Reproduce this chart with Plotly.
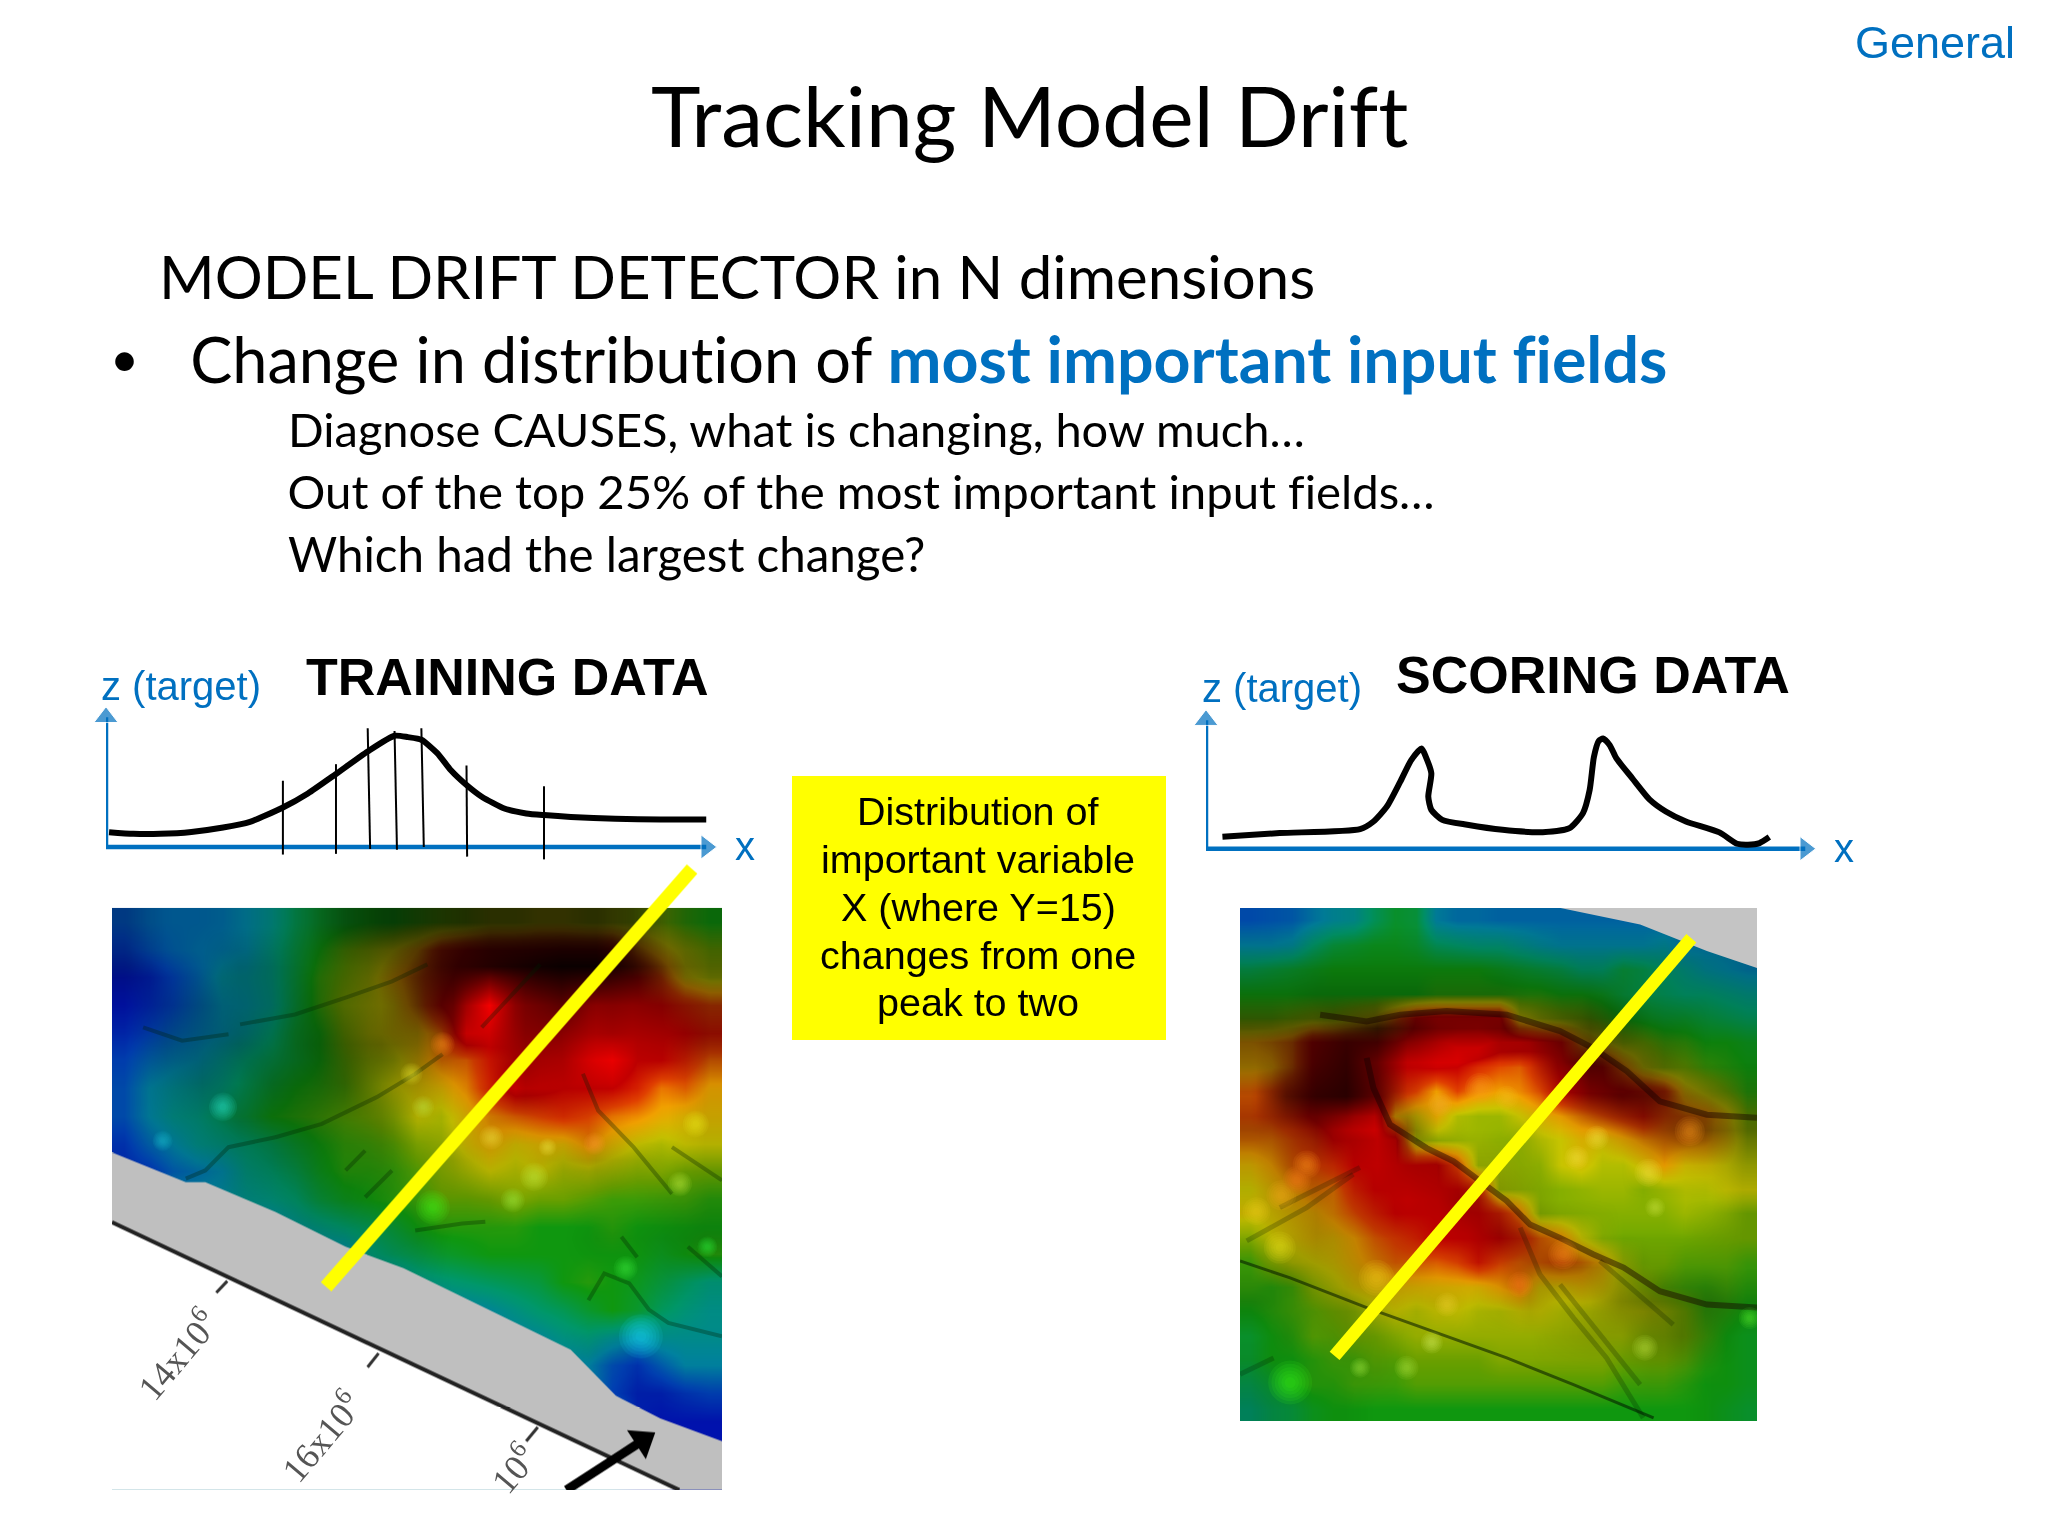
import plotly.graph_objects as go

# slide size in pixels, everything on the page is placed against this
PAGE_W = 2048
PAGE_H = 1536

BLUE = '#0070c0'
ARIAL = 'Liberation Sans'
BODY = 'Lato'

# distribution curves, axis units are percent of the arrow length
train_x = [0.5, 4.5, 8.9, 14.0, 19.2, 23.6, 29.0, 33.1, 37.7, 42.9, 47.3, 49.5, 51.7, 54.3,
           56.5, 59.1, 61.6, 65.3, 68.9, 71.8, 76.2, 83.5, 90.9, 98.4]
train_y = [10.7, 9.5, 9.5, 10.9, 14.1, 18.2, 28.6, 38.8, 52.9, 69.2, 80.6, 79.6, 77.7, 68.0,
           55.8, 44.9, 36.4, 27.9, 24.3, 23.1, 21.8, 20.4, 19.9, 19.9]
bin_x_top = [29.0, 37.7, 42.9, 47.3, 51.7, 59.1, 71.8]
bin_x_bottom = [29.0, 37.7, 43.3, 47.7, 52.1, 59.2, 71.8]
bin_top = [48, 60, 86, 84, 86, 59, 44]
bin_bottom = [-5.5, -5, -1.5, -2, 0, -7, -9]

score_x = [2.7, 12.1, 25.3, 27.5, 29.7, 31.9, 33.7, 35.4, 36.1, 37.0, 36.5, 37.0, 38.8, 42.9,
           48.7, 55.3, 59.7, 61.9, 63.0, 63.7, 64.5, 65.2, 66.3, 67.4, 70.0, 72.9, 75.5, 78.8,
           84.3, 87.2, 89.0, 90.9, 92.5]
score_y = [8.7, 11.4, 14.3, 19.9, 30.8, 49.0, 64.8, 73.3, 67.2, 55.1, 38.1, 28.4, 21.1, 17.5,
           13.8, 12.1, 15.0, 26.0, 43.0, 67.2, 78.9, 80.6, 75.7, 66.0, 51.5, 35.7, 27.2, 19.9,
           11.9, 3.6, 2.9, 4.1, 8.5]

# terrain height, 21 rows of 25 cells
train_height = [
    [.12, .15, .16, .16, .17, .2, .25, .33, .38, .4, .42, .42, .45, .48, .5, .55, .55, .58, .58, .55, .55, .52, .5, .45, .42],
    [.08, .12, .15, .17, .18, .2, .27, .35, .42, .48, .52, .58, .66, .8, .85, .85, .85, .85, .85, .85, .85, .7, .62, .55, .5],
    [.03, .05, .1, .15, .22, .23, .27, .36, .45, .5, .55, .64, .72, .82, .88, .95, .9, .85, .85, .85, .85, .85, .75, .6, .55],
    [.03, .06, .1, .15, .2, .22, .26, .36, .45, .52, .56, .6, .7, .85, .95, .95, .85, .85, .85, .88, .85, .85, .85, .8, .75],
    [.06, .1, .14, .17, .2, .24, .3, .38, .42, .5, .56, .6, .62, .72, .95, .88, .85, .85, .88, .88, .85, .85, .85, .85, .82],
    [.1, .15, .18, .2, .25, .3, .34, .38, .42, .48, .53, .56, .62, .7, .72, .82, .85, .88, .88, .93, .95, .85, .85, .8, .72],
    [.12, .2, .23, .25, .28, .33, .38, .42, .44, .47, .52, .57, .6, .62, .68, .8, .9, .88, .85, .85, .85, .8, .7, .72, .65],
    [.12, .2, .25, .27, .32, .36, .42, .44, .46, .48, .5, .53, .58, .56, .62, .68, .72, .75, .78, .75, .7, .68, .64, .62, .62],
    [.08, .15, .2, .25, .27, .3, .33, .38, .42, .45, .46, .48, .52, .54, .6, .64, .6, .62, .62, .68, .62, .58, .56, .58, .58],
    [.06, .08, .14, .17, .2, .27, .3, .34, .4, .44, .44, .45, .48, .52, .55, .58, .56, .58, .55, .56, .54, .52, .52, .5, .5],
    [.2, .2, .2, .2, .22, .25, .27, .3, .36, .4, .42, .44, .46, .49, .49, .5, .52, .5, .5, .48, .46, .46, .46, .46, .44],
    [.2, .2, .2, .2, .2, .2, .2, .24, .27, .3, .33, .37, .42, .44, .44, .44, .44, .42, .42, .42, .44, .42, .42, .42, .42],
    [.2, .2, .2, .2, .2, .2, .2, .2, .2, .2, .28, .32, .35, .38, .4, .42, .42, .42, .42, .42, .42, .42, .4, .42, .44],
    [.2, .2, .2, .2, .2, .2, .2, .2, .2, .2, .2, .2, .26, .28, .3, .32, .34, .36, .42, .44, .42, .4, .36, .32, .28],
    [.2, .2, .2, .2, .2, .2, .2, .2, .2, .2, .2, .2, .2, .2, .2, .22, .26, .3, .33, .38, .42, .38, .32, .28, .25],
    [.2, .2, .2, .2, .2, .2, .2, .2, .2, .2, .2, .2, .2, .2, .2, .2, .2, .22, .26, .28, .24, .2, .24, .24, .24],
    [.2, .2, .2, .2, .2, .2, .2, .2, .2, .2, .2, .2, .2, .2, .2, .2, .2, .2, .2, .2, .12, .08, .14, .2, .2],
    [.2, .2, .2, .2, .2, .2, .2, .2, .2, .2, .2, .2, .2, .2, .2, .2, .2, .2, .2, .2, .1, .05, .05, .08, .1],
    [.2, .2, .2, .2, .2, .2, .2, .2, .2, .2, .2, .2, .2, .2, .2, .2, .2, .2, .2, .2, .2, .05, .03, .03, .03],
    [.2, .2, .2, .2, .2, .2, .2, .2, .2, .2, .2, .2, .2, .2, .2, .2, .2, .2, .2, .2, .2, .05, .03, .03, .03],
    [.2, .2, .2, .2, .2, .2, .2, .2, .2, .2, .2, .2, .2, .2, .2, .2, .2, .2, .2, .2, .2, .05, .03, .03, .03],
]
score_height = [
    [.12, .13, .14, .18, .22, .24, .32, .38, .36, .2, .17, .17, .16, .16, .16, .16, .16, .16, .16, .16, .16, .16, .16, .16, .16],
    [.2, .2, .22, .3, .36, .38, .4, .4, .38, .32, .3, .28, .28, .25, .22, .2, .2, .2, .2, .2, .22, .18, .18, .18, .18],
    [.34, .36, .38, .4, .42, .42, .42, .42, .42, .42, .42, .42, .4, .38, .36, .34, .3, .3, .36, .34, .3, .26, .22, .2, .18],
    [.42, .42, .42, .42, .42, .42, .42, .42, .42, .44, .44, .44, .44, .44, .44, .42, .42, .4, .36, .34, .32, .3, .3, .28, .26],
    [.48, .48, .5, .52, .52, .56, .6, .72, .85, .88, .88, .88, .88, .6, .55, .52, .5, .46, .42, .4, .38, .38, .36, .34, .32],
    [.66, .68, .72, .85, .85, .85, .85, .85, .88, .92, .98, 1, .92, .92, .88, .85, .68, .6, .52, .5, .46, .45, .42, .42, .4],
    [.64, .65, .72, .85, .85, .85, .85, .85, .85, .86, .85, .78, .74, .72, .8, .86, .88, .85, .7, .58, .52, .5, .46, .44, .42],
    [.72, .75, .8, .85, .85, .85, .85, .8, .75, .66, .75, .68, .66, .68, .74, .85, .86, .86, .86, .82, .78, .62, .56, .5, .44],
    [.74, .76, .8, .86, .9, .95, .95, .65, .6, .64, .56, .54, .54, .58, .62, .66, .7, .74, .78, .82, .75, .72, .7, .62, .5],
    [.7, .7, .74, .78, .85, .85, .86, .88, .56, .54, .54, .54, .53, .53, .56, .58, .62, .6, .64, .68, .7, .7, .68, .62, .54],
    [.62, .66, .72, .74, .78, .85, .85, .85, .85, .86, .75, .54, .54, .53, .53, .58, .6, .56, .56, .6, .66, .6, .6, .58, .56],
    [.58, .62, .66, .7, .7, .8, .85, .85, .85, .85, .85, .8, .54, .53, .52, .52, .53, .54, .54, .52, .54, .56, .56, .58, .58],
    [.6, .6, .62, .64, .68, .74, .8, .85, .85, .85, .85, .85, .8, .7, .52, .52, .52, .52, .52, .52, .52, .54, .53, .52, .5],
    [.52, .58, .6, .62, .62, .66, .72, .76, .8, .85, .85, .85, .85, .8, .72, .68, .58, .52, .5, .5, .5, .5, .5, .5, .5],
    [.46, .52, .56, .58, .6, .64, .68, .72, .72, .72, .75, .82, .75, .72, .72, .74, .7, .64, .54, .5, .5, .48, .48, .48, .46],
    [.45, .44, .46, .52, .56, .6, .62, .62, .62, .62, .62, .62, .66, .7, .6, .6, .62, .6, .56, .52, .48, .46, .45, .46, .44],
    [.42, .44, .46, .48, .5, .52, .56, .58, .56, .58, .58, .56, .56, .58, .58, .56, .56, .56, .56, .56, .54, .5, .45, .44, .42],
    [.38, .42, .44, .48, .48, .5, .5, .52, .54, .54, .54, .54, .54, .54, .54, .54, .54, .54, .54, .52, .52, .5, .46, .42, .4],
    [.38, .42, .42, .44, .46, .46, .48, .48, .5, .5, .5, .5, .52, .52, .52, .52, .52, .52, .5, .5, .5, .48, .44, .42, .4],
    [.34, .38, .42, .44, .44, .46, .46, .46, .48, .48, .48, .48, .48, .48, .48, .48, .48, .48, .46, .46, .46, .44, .42, .42, .4],
    [.3, .34, .36, .4, .42, .42, .42, .42, .42, .42, .42, .42, .42, .42, .42, .42, .42, .42, .42, .42, .42, .42, .42, .4, .38],
]

# shadow on the same pictures, coarser, 15 rows of 17 cells
train_shade = [
    [.3, .2, .2, .2, .2, .3, .5, .6, .65, .7, .75, .75, .75, .75, .65, .4, .35],
    [.3, .2, .2, .3, .3, .3, .4, .5, .65, .75, .85, .9, .95, .95, .8, .55, .45],
    [.15, .25, .3, .3, .3, .35, .4, .45, .6, .55, .05, .4, .55, .35, .3, .35, .4],
    [.1, .25, .3, .35, .3, .4, .45, .5, .45, .25, .05, .3, .3, .15, .1, .15, .3],
    [.1, .2, .3, .25, .35, .35, .4, .3, .25, .1, .05, .2, .1, .05, 0, 0, .1],
    [.1, .15, .2, .3, .3, .3, .25, .25, .1, .05, .15, .1, .05, .05, 0, 0, .1],
    [.1, .1, .15, .2, .25, .25, .2, .2, .1, .15, .1, .1, .15, .2, .1, .05, .1],
    [.1, .1, .1, .15, .15, .2, .2, .15, .1, .1, .1, .05, .05, .05, .05, .1, .15],
    [.1, .1, .1, .1, .1, .15, .15, .15, .15, .05, .05, .05, .05, .1, .1, .15, .2],
    [.05, .05, .05, .05, .05, .1, .1, .15, .1, .05, .05, .05, .05, .05, .05, .1, .1],
    [.05, .05, .05, .05, .05, .05, .05, .1, .1, .05, .05, .05, .05, .05, .05, .05, .05],
    [.05, .05, .05, .05, .05, .05, .05, .05, .05, .05, .05, .05, .05, .1, .1, .05, .05],
    [.05, .05, .05, .05, .05, .05, .05, .05, .05, .05, .05, .05, .05, .05, .1, .1, .1],
    [.05, .05, .05, .05, .05, .05, .05, .05, .05, .05, .05, .05, .05, .05, .05, .05, .05],
    [.05, .05, .05, .05, .05, .05, .05, .05, .05, .05, .05, .05, .05, .05, .05, .05, .05],
]
score_shade = [
    [.1, .1, .1, .1, .1, .1, .1, .1, .1, .1, .1, .1, .1, .1, .1, .1, .1],
    [.2, .2, .2, .2, .2, .2, .2, .2, .2, .2, .2, .2, .2, .2, .2, .2, .2],
    [.3, .3, .35, .35, .35, .35, .35, .35, .35, .3, .3, .3, .25, .2, .2, .2, .2],
    [.55, .55, .6, .7, .8, .6, .5, .5, .5, .5, .55, .6, .45, .3, .25, .2, .2],
    [.4, .5, .65, .75, .5, .05, 0, 0, 0, .05, .35, .65, .55, .45, .3, .2, .2],
    [.2, .6, .75, .8, .55, .1, 0, 0, 0, 0, .1, .4, .55, .55, .45, .4, .3],
    [.3, .3, .35, .2, .1, .45, .05, 0, 0, .05, 0, .05, .15, .3, .45, .5, .4],
    [.15, .25, .2, .1, .05, .15, .2, .1, .1, .05, 0, 0, 0, .05, .05, .1, .2],
    [.1, .2, .25, .15, .1, .05, .1, .25, .2, .1, 0, 0, 0, 0, 0, 0, .1],
    [.05, .15, .25, .2, .15, .1, .05, .1, .25, .25, .15, .05, 0, 0, 0, .05, .1],
    [.1, .2, .2, .2, .2, .15, .05, .05, .1, .25, .3, .3, .2, .1, .1, .1, .1],
    [.2, .15, .15, .2, .15, .1, .1, .05, .1, .2, .1, .15, .3, .35, .3, .3, .2],
    [.1, .15, .1, .15, .1, .05, .05, .05, .05, .05, .1, .15, .15, .25, .3, .2, .1],
    [.15, .1, .1, .1, .1, .05, .05, .05, .05, .05, .05, .05, .05, .1, .1, .1, .1],
    [.2, .15, .1, .1, .05, .05, .05, .05, .05, .05, .05, .05, .05, .05, .05, .1, .1],
]
HEIGHT_COLORS = [
    [0, '#0000b4'], [.1, '#0044c0'], [.2, '#0088a8'], [.3, '#00a070'], [.42, '#10a010'],
    [.5, '#70a800'], [.58, '#c8c400'], [.66, '#f0a000'], [.75, '#e04000'], [.85, '#c80000'],
    [.95, '#ff0000'], [1, '#ff0000'],
]

# bare ground, creases and bright spots in fractions of each picture
train_ground_x = [0, .121, .153, .268, .383, .478, .752, .826, .899, 1, 1, 0]
train_ground_y = [.42, .471, .471, .522, .582, .619, .759, .838, .877, .916, 1, 1]
train_blank_x = [0, .93, 0]
train_blank_y = [.54, 1, 1]
train_edge_x = [0, .93]
train_edge_y = [.54, 1]
train_tick_x = [.171, .189, None, .419, .437, None, .679, .698]
train_tick_y = [.661, .641, None, .789, .765, None, .916, .892]
train_arrow_x = [.745, .87]
train_arrow_y = [1, .915]
train_crease_x = [.21, .3, .383, .459, .517, None, .268, .344, .434, .497, .542, None,
                  .121, .153, .191, .268, None, .772, .797, .855, .918, None,
                  .781, .807, .848, .88, .912, 1, None, .497, .574, .612, None,
                  .918, 1, None, .606, .702, None, .835, .861, None, .944, 1, None,
                  .051, .115, .191, None, .383, .415, None, .415, .459]
train_crease_y = [.2, .183, .154, .126, .097, None, .394, .371, .325, .285, .251, None,
                  .465, .451, .411, .394, None, .285, .348, .411, .491, None,
                  .674, .628, .645, .69, .713, .736, None, .554, .542, .539, None,
                  .411, .468, None, .205, .097, None, .565, .6, None, .582, .633, None,
                  .205, .228, .217, None, .451, .417, None, .497, .451]
train_spot_x = [.182, .526, .867, .842, .692, .622, .791, .714, .931, .957, .657, .51, .491, .542, .083, .976]
train_spot_y = [.342, .514, .736, .619, .462, .394, .405, .411, .474, .371, .502, .342, .285, .234, .4, .582]
train_spot_color = ['#30f0d0', '#40ff20', '#20e0ff', '#40f040', '#c0f040', '#f0e040', '#ffa030', '#f0e040',
                    '#c0f040', '#e8f020', '#a0f040', '#c0e040', '#e0e030', '#ff9020', '#20c0d0', '#30f040']
train_spot_size = [28, 34, 44, 24, 28, 24, 22, 18, 24, 26, 24, 22, 22, 24, 20, 20]
train_line_x = [.351, .951]
train_line_y = [.651, -.067]

score_ground_x = [.62, .774, .903, 1, 1, .62]
score_ground_y = [0, .032, .084, .117, 0, 0]
score_ridge_x = [.245, .258, .29, .361, .413, .464, .516, .561, .619, .683, .742, .812, .903, 1, None,
                 .155, .245, .31, .4, .516, .619, .683, .748, .812, .903, 1]
score_ridge_y = [.292, .351, .422, .468, .494, .532, .571, .617, .643, .675, .701, .747, .773, .779, None,
                 .208, .221, .208, .201, .208, .24, .273, .318, .377, .403, .409]
score_crease_x = [0, .097, .245, .387, .516, .645, .8]
score_crease_y = [.688, .721, .779, .831, .877, .929, .994]
score_streak_x = [.542, .58, .645, .709, .78, None, .619, .774, None, .219, .129, .013, None,
                  .232, .077, None, .065, 0, None, .696, .838]
score_streak_y = [.623, .714, .799, .877, .994, None, .734, .929, None, .519, .584, .649, None,
                  .506, .584, None, .877, .909, None, .688, .812]
score_spot_x = [.097, .371, .322, .232, .651, .69, .79, .803, .783, .264, .4, .077, .032, .129, .387, .464, .516, .542, .625, .87, .986,
                .08, .11]
score_spot_y = [.925, .847, .896, .896, .487, .448, .516, .584, .857, .721, .773, .662, .591, .5, .383, .351, .37, .734, .675, .435, .799,
                .56, .53]
score_spot_color = ['#40ff20', '#d0f060', '#b0e040', '#a0e040', '#f8e040', '#f8e040', '#f8e040', '#c8e040',
                    '#c0e040', '#f8d020', '#e8d030', '#e8e020', '#e8d020', '#ff9020', '#f8b030', '#ffa020',
                    '#f8c020', '#ff8020', '#ff9020', '#ffa020', '#60f030', '#f8b020', '#ff8020']
score_spot_size = [44, 22, 24, 20, 24, 24, 28, 20, 26, 36, 24, 32, 28, 28, 24, 30, 24, 26, 30, 30, 22, 30, 28]
score_line_x = [.183, .873]
score_line_y = [.873, .059]


def page_x(px: float) -> float:
    """Return the paper coordinate of a page pixel column."""
    return px / PAGE_W


def page_y(px: float) -> float:
    """Return the paper coordinate of a page pixel row."""
    return 1 - px / PAGE_H


def add_curve(fig, curve_x, curve_y, axis_id):
    """Add a blue pair of arrows and the black hand drawn curve to one small axes."""
    fig.add_trace(go.Scatter(x=[0, 98.4], y=[0, 0], mode='lines+markers', cliponaxis=False,
                             line=dict(color=BLUE, width=4.5), xaxis=f'x{axis_id}', yaxis=f'y{axis_id}',
                             marker=dict(symbol='triangle-right', size=[0, 21], color=BLUE)))
    fig.add_trace(go.Scatter(x=[0, 0], y=[0, 94], mode='lines+markers', cliponaxis=False,
                             line=dict(color=BLUE, width=4.5), xaxis=f'x{axis_id}', yaxis=f'y{axis_id}',
                             marker=dict(symbol='triangle-up', size=[0, 21], color=BLUE)))
    fig.add_trace(go.Scatter(x=curve_x, y=curve_y, mode='lines', cliponaxis=False,
                             line=dict(color='black', width=6, shape='spline', smoothing=0.6),
                             xaxis=f'x{axis_id}', yaxis=f'y{axis_id}'))


def add_surface(fig, height, shade, axis_id):
    """Add the coloured height map and the shadow map on top of it."""
    for grid, scale in ((height, HEIGHT_COLORS),
                        (shade, [[0, 'rgba(0,0,0,0)'], [1, 'rgba(0,0,0,1)']])):
        rows = len(grid)
        cols = len(grid[0])
        fig.add_trace(go.Heatmap(z=grid, x=[(i + 0.5) / cols for i in range(cols)],
                                 y=[(i + 0.5) / rows for i in range(rows)],
                                 zmin=0, zmax=1, zsmooth='best', colorscale=scale, showscale=False,
                                 xaxis=f'x{axis_id}', yaxis=f'y{axis_id}'))


def add_lines(fig, x, y, axis_id, color, width):
    """Add a plain line trace to the given axes."""
    fig.add_trace(go.Scatter(x=x, y=y, mode='lines', line=dict(color=color, width=width),
                             connectgaps=False, xaxis=f'x{axis_id}', yaxis=f'y{axis_id}'))


def add_fill(fig, x, y, axis_id, color):
    """Add a filled polygon without outline to the given axes."""
    fig.add_trace(go.Scatter(x=x, y=y, mode='lines', fill='toself', fillcolor=color,
                             line=dict(width=0), xaxis=f'x{axis_id}', yaxis=f'y{axis_id}'))


def add_spots(fig, x, y, colors, sizes, axis_id):
    """Add the bright specks of the surface, several sizes on top of each other to soften them."""
    for scale in (1.0, 0.85, 0.7, 0.55, 0.4, 0.25):
        fig.add_trace(go.Scatter(x=x, y=y, mode='markers', opacity=0.16,
                                 marker=dict(color=colors, size=[s * scale for s in sizes],
                                             line=dict(width=0)),
                                 xaxis=f'x{axis_id}', yaxis=f'y{axis_id}'))


def text(s, x, y, size, color='black', family=BODY, xanchor='left', angle=0):
    """Return a page text placed in pixels, y is the middle of the line."""
    return dict(text=s, x=page_x(x), y=page_y(y), xref='paper', yref='paper', showarrow=False,
                xanchor=xanchor, yanchor='middle', align='center', textangle=angle,
                font=dict(size=size, color=color, family=family))


def hidden_axis(domain, axis_range):
    """Return an invisible axis, only its scale is used."""
    return dict(domain=domain, range=axis_range, visible=False, fixedrange=True)


fig = go.Figure()

# small distribution plots
add_curve(fig, train_x, train_y, 1)
bin_lines_x = []
bin_lines_y = []
for x_top, x_bottom, top, bottom in zip(bin_x_top, bin_x_bottom, bin_top, bin_bottom):
    bin_lines_x += [x_top, x_bottom, None]
    bin_lines_y += [top, bottom, None]
add_lines(fig, bin_lines_x, bin_lines_y, 1, 'black', 2)
add_curve(fig, score_x, score_y, 2)

# training surface
add_surface(fig, train_height, train_shade, 3)
add_lines(fig, train_crease_x, train_crease_y, 3, 'rgba(0,30,0,0.3)', 4)
add_spots(fig, train_spot_x, train_spot_y, train_spot_color, train_spot_size, 3)
add_fill(fig, train_ground_x, train_ground_y, 3, '#bfbfbf')
add_fill(fig, train_blank_x, train_blank_y, 3, 'white')
add_lines(fig, train_edge_x, train_edge_y, 3, '#222222', 4)
add_lines(fig, train_tick_x, train_tick_y, 3, '#333333', 3)
add_lines(fig, train_arrow_x, train_arrow_y, 3, 'black', 9)
fig.add_trace(go.Scatter(x=train_arrow_x[1:], y=train_arrow_y[1:], mode='markers', xaxis='x3', yaxis='y3',
                         marker=dict(symbol='triangle-up', size=30, color='black', angle=57)))
add_lines(fig, train_line_x, train_line_y, 3, '#ffff00', 14)

# scoring surface
add_surface(fig, score_height, score_shade, 4)
add_lines(fig, score_streak_x, score_streak_y, 4, 'rgba(0,20,0,0.22)', 5)
add_lines(fig, score_crease_x, score_crease_y, 4, 'rgba(0,20,0,0.55)', 3)
add_lines(fig, score_ridge_x, score_ridge_y, 4, 'rgba(20,0,0,0.45)', 6)
add_spots(fig, score_spot_x, score_spot_y, score_spot_color, score_spot_size, 4)
add_fill(fig, score_ground_x, score_ground_y, 4, '#c4c4c4')
add_lines(fig, score_line_x, score_line_y, 4, '#ffff00', 13)

annotations = [
    text('General', 2017, 42, 45, BLUE, ARIAL, 'right'),
    text('Tracking Model Drift', 1029, 115, 84, xanchor='center'),
    text('MODEL DRIFT DETECTOR in N dimensions', 157, 276, 60),
    text('•', 124, 358, 50, xanchor='center'),
    text('Change in distribution of '
         f'<b><span style="color:{BLUE};font-size:64.5px">most important input fields</span></b>',
         188, 358, 63),
    text('Diagnose CAUSES, what is changing, how much…', 286, 429, 47),
    text('Out of the top 25% of the most important input fields…', 286, 491, 47.3),
    text('Which had the largest change?', 286, 553, 47.5),
    text('z (target)', 99, 686, 40, BLUE, ARIAL),
    text('<b>TRAINING DATA</b>', 304, 677, 52, 'black', ARIAL),
    text('x', 745, 846, 40, BLUE, ARIAL, 'center'),
    text('z (target)', 1200, 688, 40, BLUE, ARIAL),
    text('<b>SCORING DATA</b>', 1394, 675, 52, 'black', ARIAL),
    text('x', 1844, 848, 40, BLUE, ARIAL, 'center'),
    text('Distribution of', 978, 811, 39.5, 'black', ARIAL, 'center'),
    text('important variable', 978, 859, 39.5, 'black', ARIAL, 'center'),
    text('X (where Y=15)', 978, 907, 39.5, 'black', ARIAL, 'center'),
    text('changes from one', 978, 955, 39.5, 'black', ARIAL, 'center'),
    text('peak to two', 978, 1002, 39.5, 'black', ARIAL, 'center'),
    text('14x10<sup>6</sup>', 176, 1354, 36, '#555555', 'Liberation Serif', 'center', -50),
    text('16x10<sup>6</sup>', 320, 1436, 36, '#555555', 'Liberation Serif', 'center', -50),
    text('10<sup>6</sup>', 512, 1468, 36, '#555555', 'Liberation Serif', 'center', -50),
]

fig.update_layout(
    width=PAGE_W, height=PAGE_H, margin=dict(l=0, r=0, t=0, b=0), showlegend=False,
    paper_bgcolor='white', plot_bgcolor='rgba(0,0,0,0)', annotations=annotations,
    shapes=[dict(type='rect', xref='paper', yref='paper', x0=page_x(792), x1=page_x(1166),
                 y0=page_y(1040), y1=page_y(776), fillcolor='#ffff00', line=dict(width=0), layer='below')],
    # training distribution, arrow box 106..716 by 709..847 with room for the bin ticks
    xaxis=hidden_axis([page_x(106), page_x(716)], [0, 100]),
    yaxis=hidden_axis([page_y(870), page_y(709)], [-16.7, 100]),
    # scoring distribution
    xaxis2=hidden_axis([page_x(1206), page_x(1815)], [0, 100]),
    yaxis2=hidden_axis([page_y(870), page_y(712)], [-15.6, 100]),
    # surfaces, the training one leaves room for the line that leaves the picture
    xaxis3=hidden_axis([page_x(112), page_x(722)], [0, 1]),
    yaxis3=hidden_axis([page_y(1490), page_y(861.4)], [1, -0.08]),
    xaxis4=hidden_axis([page_x(1240), page_x(1757)], [0, 1]),
    yaxis4=hidden_axis([page_y(1421), page_y(908)], [1, 0]),
)

fig.write_html("out.html", config={'displayModeBar': False},
               post_script="document.body.style.margin='0';"
                           "var s=document.createElement('style');"
                           "s.textContent='text,tspan{font-variant-ligatures:none !important}';"
                           "document.head.appendChild(s);")
